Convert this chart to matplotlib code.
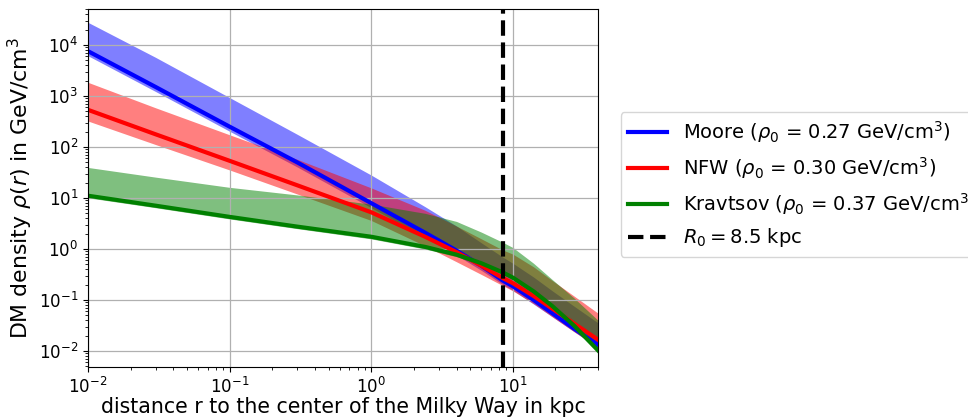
import matplotlib
matplotlib.use("Agg")
import matplotlib.pyplot as plt

# Galactocentric distance in kpc
r_kpc = [0.01, 0.03, 0.1, 0.3, 1, 2.4, 4, 6, 8.5, 10, 14, 19, 27, 40]

# Dark matter density profiles in GeV/cm^3 (central value, band lower, band upper)
moore = [7600, 1510, 251, 50.1, 7.94, 2.09, 0.933, 0.468, 0.240, 0.186, 0.100, 0.0550, 0.0275, 0.0132]
moore_lo = [6170, 1230, 204, 40.7, 6.46, 1.70, 0.759, 0.380, 0.200, 0.155, 0.0832, 0.0468, 0.0240, 0.0117]
moore_hi = [27900, 5750, 933, 178, 28.2, 6.76, 2.82, 1.32, 0.692, 0.525, 0.282, 0.151, 0.0759, 0.0355]

nfw = [537, 178, 53.7, 17.8, 5.25, 1.74, 0.871, 0.468, 0.269, 0.214, 0.120, 0.0676, 0.0347, 0.0166]
nfw_lo = [324, 112, 35.5, 12.0, 3.63, 1.15, 0.562, 0.316, 0.191, 0.151, 0.0851, 0.0468, 0.0240, 0.0115]
nfw_hi = [1860, 589, 174, 57.5, 15.8, 5.75, 2.82, 1.58, 0.955, 0.794, 0.447, 0.240, 0.120, 0.0550]

kravtsov = [11.1, 7.08, 4.27, 2.75, 1.74, 1.10, 0.776, 0.525, 0.347, 0.275, 0.148, 0.0759, 0.0316, 0.0102]
kravtsov_lo = [10.1, 6.46, 3.89, 2.51, 1.58, 1.00, 0.708, 0.479, 0.316, 0.251, 0.135, 0.0708, 0.0295, 0.00977]
kravtsov_hi = [39.8, 25.7, 16.2, 11.5, 7.59, 5.01, 3.47, 2.14, 1.35, 1.07, 0.525, 0.251, 0.110, 0.0398]

labels = [
    r"Moore ($\rho_0$ = 0.27 GeV/cm$^3$)",
    r"NFW ($\rho_0$ = 0.30 GeV/cm$^3$)",
    r"Kravtsov ($\rho_0$ = 0.37 GeV/cm$^3$)",
]
R0 = 8.5
r0_label = r"$R_0 = 8.5$ kpc"

fig = plt.figure(figsize=(9.68, 4.17), dpi=100)
ax = fig.add_axes([0.0909, 0.1199, 0.527, 0.8585])

series = [
    (moore, moore_lo, moore_hi, "blue"),
    (nfw, nfw_lo, nfw_hi, "red"),
    (kravtsov, kravtsov_lo, kravtsov_hi, "green"),
]

for _, lo, hi, col in series:
    ax.fill_between(r_kpc, lo, hi, color=col, alpha=0.5, lw=0)

for (mid, _, _, col), lab in zip(series, labels):
    ax.plot(r_kpc, mid, color=col, lw=3, label=lab)

ax.axvline(R0, color="black", lw=3, ls="--", label=r0_label)

ax.set_xscale("log")
ax.set_yscale("log")
ax.set_xlim(0.01, 40)
ax.set_ylim(4.85e-3, 5.1e4)
ax.grid(True, which="major", color="#b0b0b0", lw=0.9)
ax.tick_params(labelsize=12)

ax.set_xlabel("distance r to the center of the Milky Way in kpc", fontsize=14.8, labelpad=0)
ax.set_ylabel(r"DM density $\rho(r)$ in GeV/cm$^3$", fontsize=15.8, labelpad=3)

ax.legend(loc="center left", bbox_to_anchor=(1.025, 0.51), fontsize=14)

fig.savefig("out.png", dpi=100)
